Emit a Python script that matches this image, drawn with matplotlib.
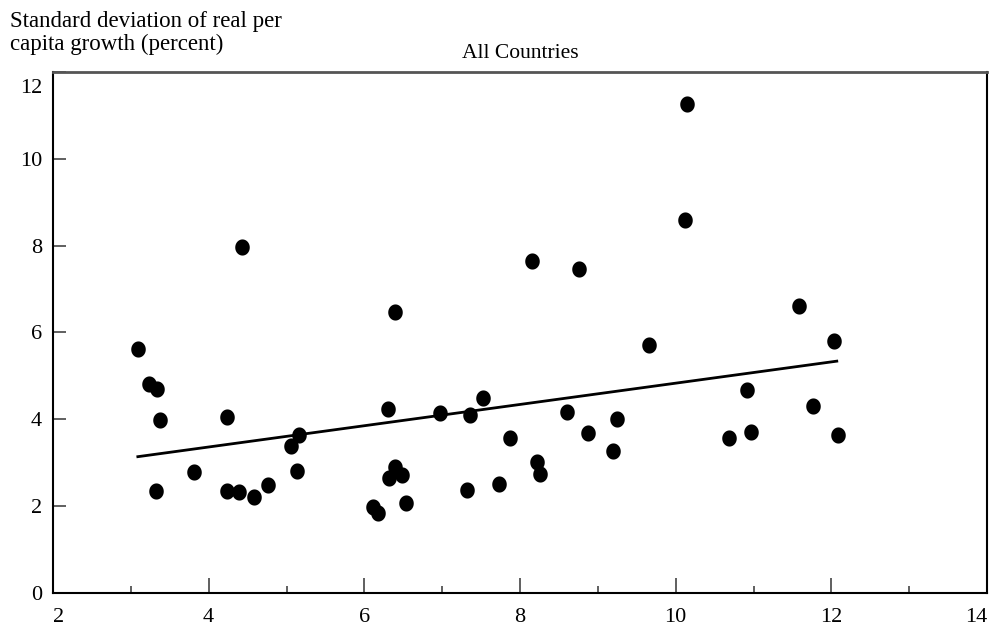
import matplotlib
matplotlib.use("Agg")
import matplotlib.pyplot as plt
import numpy as np
from matplotlib.path import Path
from matplotlib.ticker import MultipleLocator
import matplotlib.transforms as mtransforms

plt.rcParams['font.family'] = ['Liberation Serif', 'DejaVu Serif']

x_vals = [3.09, 3.23, 3.33, 3.38, 4.24, 5.16, 5.06, 5.14, 3.81, 3.32,
          4.23, 4.39, 4.58, 4.76, 4.43, 6.40, 6.30, 6.97, 7.36, 7.52,
          8.61, 8.88, 9.25, 9.19, 7.87, 8.22, 8.26, 7.73, 7.32, 6.40,
          6.32, 6.48, 6.54, 6.11, 6.18, 10.15, 10.12, 11.59, 12.03, 9.66,
          10.92, 11.76, 10.68, 10.97, 12.08, 8.15, 8.76]
y_vals = [5.61, 4.81, 4.70, 3.98, 4.05, 3.64, 3.38, 2.82, 2.78, 2.35,
          2.35, 2.33, 2.21, 2.48, 7.97, 6.48, 4.24, 4.15, 4.11, 4.48,
          4.18, 3.69, 4.00, 3.28, 3.57, 3.02, 2.75, 2.52, 2.37, 2.90,
          2.65, 2.72, 2.07, 1.99, 1.85, 11.26, 8.58, 6.62, 5.81, 5.71,
          4.68, 4.30, 3.57, 3.71, 3.64, 7.64, 7.46]
trend_x = [3.09, 12.07]
trend_y = [3.14, 5.34]

x_ticks = [2, 4, 6, 8, 10, 12, 14]
y_ticks = [0, 2, 4, 6, 8, 10, 12]
title = "All Countries"
ylabel = "Standard deviation of real per\ncapita growth (percent)"

fig = plt.figure(figsize=(10, 6.28), dpi=100)
ax = fig.add_axes([0.053, 0.0557, 0.934, 0.8297])

# slightly tall ellipse marker
t = np.linspace(0, 2 * np.pi, 60)
verts = np.column_stack([0.45 * np.cos(t), 0.5 * np.sin(t)])
ell = Path(verts, closed=True)

ax.plot(trend_x, trend_y, color='black', lw=2.0, zorder=2)
ax.scatter(x_vals, y_vals, marker=ell, s=135, color='black', zorder=3, linewidths=0)

ax.set_xlim(2, 14)
ax.set_ylim(0, 12)
ax.set_xticks(x_ticks)
ax.set_yticks(y_ticks)
ax.xaxis.set_minor_locator(MultipleLocator(1))
ax.set_xticklabels([str(v) for v in x_ticks])
ax.set_yticklabels([str(v) for v in y_ticks])

ax.tick_params(axis='x', which='major', direction='in', length=11, width=1.2,
               color='#444444', labelsize=16, pad=11)
ax.tick_params(axis='x', which='minor', direction='in', length=5, width=1.2,
               color='#444444')
ax.tick_params(axis='y', which='major', direction='in', length=9, width=1.2,
               color='#444444', labelsize=16, pad=8)

for s in ['left', 'bottom', 'right']:
    ax.spines[s].set_color('black')
    ax.spines[s].set_linewidth(1.5)
ax.spines['top'].set_color('#555555')
ax.spines['top'].set_linewidth(2.0)

# edge label adjustments
xl = ax.get_xticklabels()
xl[0].set_ha('left')
xl[-1].set_ha('right')
yl = ax.get_yticklabels()
offset = mtransforms.ScaledTranslation(0, -14 / 100, fig.dpi_scale_trans)
yl[-1].set_transform(yl[-1].get_transform() + offset)

ax.set_title(title, fontsize=15.5, pad=10)
fig.text(0.01, 0.982, ylabel, fontsize=16.5, ha='left', va='top', linespacing=1.1)

fig.savefig("out.png", dpi=100)
